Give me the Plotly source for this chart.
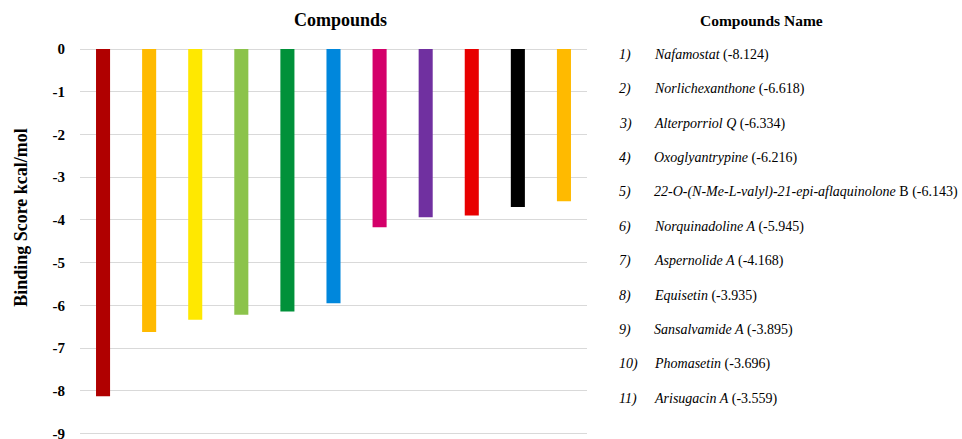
import plotly.graph_objects as go

# Docking results: binding score (kcal/mol) per compound
compound_ids = ["1", "2", "3", "4", "5", "6", "7", "8", "9", "10", "11"]
compound_names = [
    "<i>Nafamostat</i>",
    "<i>Norlichexanthone</i>",
    "<i>Alterporriol Q</i>",
    "<i>Oxoglyantrypine</i>",
    "<i>22-O-(N-Me-L-valyl)-21-epi-aflaquinolone</i> B",
    "<i>Norquinadoline A</i>",
    "<i>Aspernolide A</i>",
    "<i>Equisetin</i>",
    "<i>Sansalvamide A</i>",
    "<i>Phomasetin</i>",
    "<i>Arisugacin A</i>",
]
binding_scores = [-8.124, -6.618, -6.334, -6.216, -6.143, -5.945,
                  -4.168, -3.935, -3.895, -3.696, -3.559]
bar_colors = ["#B00000", "#FFBA00", "#FFE800", "#8CC34B", "#00913A", "#0087DC",
              "#D4006A", "#7030A0", "#E80000", "#000000", "#FFBA00"]
y_ticks = [0, -1, -2, -3, -4, -5, -6, -7, -8, -9]

W, H = 962, 439
Y_MIN = -9.1
L, R, T = 80, 587, 49           # plot area edges in pixels
UNIT = 42.78                    # pixels per kcal/mol
B = T + UNIT * (0 - Y_MIN)      # plot area bottom in pixels

def px_x(p):
    return (p - L) / (R - L)

def px_y(p):
    return (B - p) / (B - T)

SERIF = "Liberation Serif, Times New Roman, serif"

fig = go.Figure(go.Bar(
    x=compound_ids,
    y=binding_scores,
    marker=dict(color=bar_colors, line=dict(width=0)),
    hovertemplate="%{x}: %{y}<extra></extra>",
))

annotations = [
    dict(text="<b>Compounds</b>", x=px_x(340), y=px_y(20), xref="paper", yref="paper",
         showarrow=False, font=dict(family=SERIF, size=18, color="#000"),
         xanchor="center", yanchor="middle"),
    dict(text="<b>Binding Score kcal/mol</b>", x=px_x(21), y=px_y(218), xref="paper",
         yref="paper", showarrow=False, textangle=-90,
         font=dict(family=SERIF, size=18, color="#000"),
         xanchor="center", yanchor="middle"),
    dict(text="<b>Compounds Name</b>", x=px_x(761), y=px_y(20), xref="paper", yref="paper",
         showarrow=False, font=dict(family=SERIF, size=15.5, color="#000"),
         xanchor="center", yanchor="middle"),
]

row0, row_step = 55, 34.4
for i, (cid, name, score) in enumerate(zip(compound_ids, compound_names, binding_scores)):
    yy = px_y(row0 + i * row_step)
    annotations.append(dict(
        text=f"<i>{cid})</i>", x=px_x(617), y=yy, xref="paper", yref="paper",
        showarrow=False, xanchor="left", yanchor="middle",
        font=dict(family=SERIF, size=14, color="#000")))
    annotations.append(dict(
        text=f"{name} ({score:.3f})", x=px_x(652), y=yy, xref="paper", yref="paper",
        showarrow=False, xanchor="left", yanchor="middle",
        font=dict(family=SERIF, size=14, color="#000")))

fig.update_layout(
    width=W, height=H,
    margin=dict(l=L, r=W - R, t=T, b=H - B, pad=0, autoexpand=False),
    paper_bgcolor="white", plot_bgcolor="white",
    bargap=0.695,
    showlegend=False,
    annotations=annotations,
    xaxis=dict(showticklabels=False, showgrid=False, zeroline=False,
               showline=False, ticks="", automargin=False),
    yaxis=dict(range=[Y_MIN, 0], tickvals=y_ticks, ticktext=[str(v) for v in y_ticks],
               showgrid=True, gridcolor="#D9D9D9", gridwidth=1,
               zeroline=True, zerolinecolor="#D9D9D9", zerolinewidth=1,
               showline=False, ticks="", ticklabelstandoff=14,
               ticklabeloverflow="allow", automargin=False,
               tickfont=dict(family=SERIF, size=15, color="#000", weight="bold")),
)

fig.write_html("out.html")
